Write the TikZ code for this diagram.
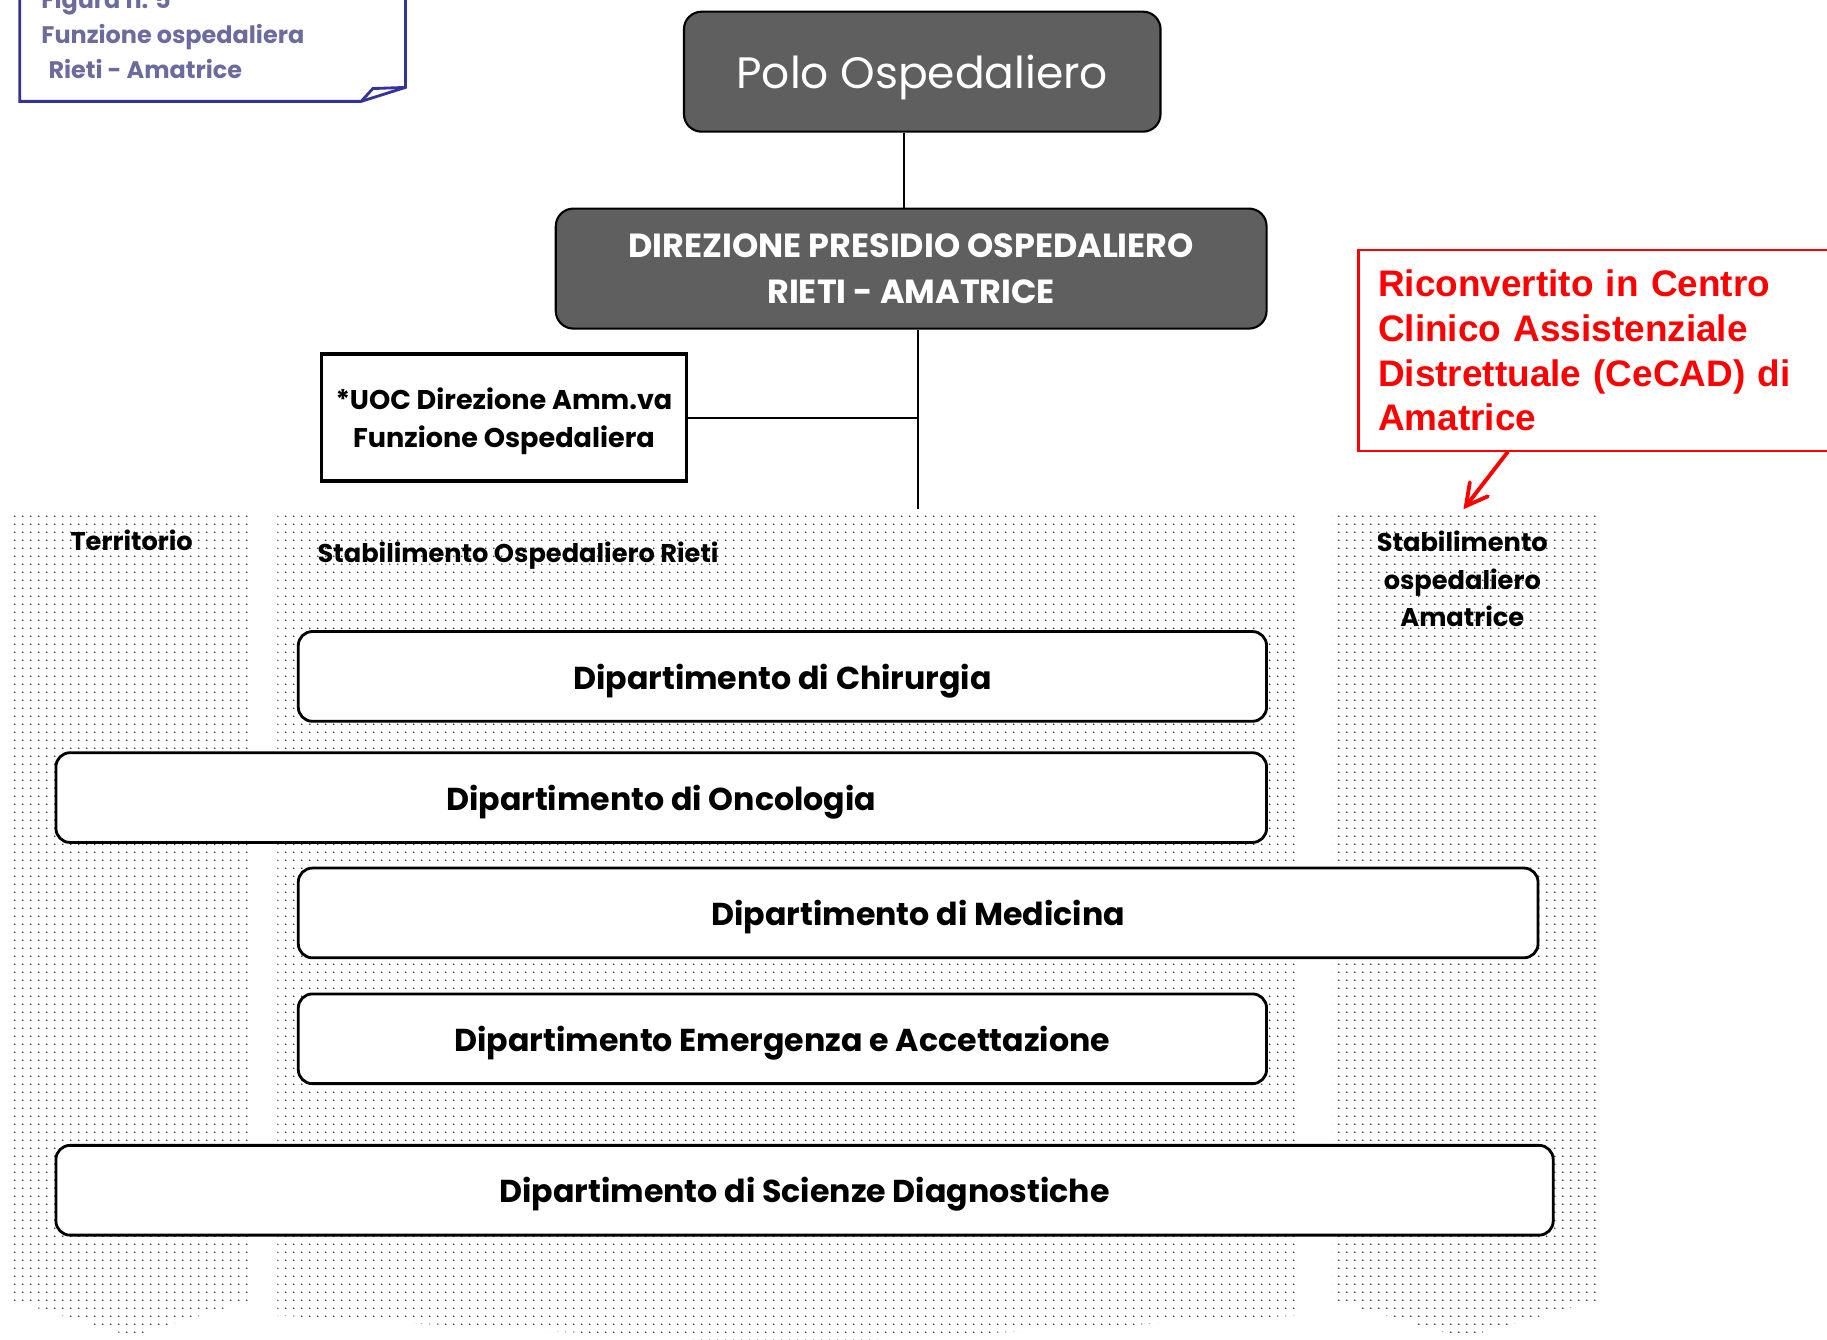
\documentclass[tikz,border=0pt]{standalone}
\usepackage{fontspec}
\setmainfont{Poppins}
\newfontfamily\arialfont{Liberation Sans}
\usetikzlibrary{positioning,arrows.meta,patterns.meta}

\definecolor{boxgray}{HTML}{5F5F5F}
\definecolor{figblue}{HTML}{333399}
\definecolor{figtxt}{HTML}{6B6B9E}
\definecolor{dotgray}{HTML}{333333}

\def\unitpx{0.01165cm}

% regular grid of small dots for the columns
\tikzdeclarepattern{
  name=griddots,
  type=uncolored,
  bounding box={(-1.1pt,-1.1pt) and (1.1pt,1.1pt)},
  tile size={(2.2pt,2.2pt)},
  code={\fill (0pt,0pt) circle (0.28pt);}
}

\tikzset{
  dotcol/.style={pattern=griddots, pattern color=dotgray},
  coltitle/.style={font=\fontsize{7.3}{10.7}\selectfont\bfseries, inner sep=0pt},
  topbox/.style={draw=black, line width=0.6pt, fill=boxgray, rounded corners=5pt,
    text=white, align=center, inner sep=0pt},
  uocbox/.style={draw=black, line width=1pt, fill=white, align=center, inner sep=0pt,
    text depth=0pt, font=\fontsize{7.7}{10.9}\selectfont\bfseries},
  dept/.style={draw=black, line width=0.8pt, fill=white, rounded corners=4pt,
    minimum height=77*\unitpx, inner sep=0pt, text depth=0pt,
    font=\fontsize{9}{11}\selectfont\bfseries},
  conn/.style={draw=black, line width=0.7pt},
  notebox/.style={draw=red, line width=0.6pt, text=red, align=left, inner xsep=5.6pt,
    font=\arialfont\fontsize{10.5}{12.7}\selectfont\bfseries},
  redarrow/.style={draw=red, line width=1.1pt, line cap=round,
    -{Straight Barb[length=6pt,width=6.5pt,line cap=round]}},
  figline/.style={draw=figblue, line width=0.8pt},
  figtext/.style={text=figtxt, inner sep=0pt, font=\fontsize{6.8}{9.9}\selectfont\bfseries}
}

\begin{document}
\begin{tikzpicture}[x=0.01165cm, y=-0.01165cm]
    \clip (0,0) rectangle (1568,1150);
    \fill[white] (0,0) rectangle (1568,1150);

    % dotted columns, pointing down
    \fill[dotcol] (10,437) -- (215,437) -- (215,1116) -- (113,1147) -- (10,1116) -- cycle;
    \fill[dotcol] (238,437) -- (1112,437) -- (1112,1129) -- (675,1154) -- (238,1129) -- cycle;
    \fill[dotcol] (1143,437) -- (1371,437) -- (1371,1116) -- (1256,1148) -- (1143,1116) -- cycle;

    % column titles
    \node[coltitle] (terr) at (113,464) {Territorio};
    \node[coltitle, anchor=west] (rieti) at (272,477) {Stabilimento Ospedaliero Rieti};
    \node[coltitle, align=center] (amat) at (1255,497) {Stabilimento\\ospedaliero\\Amatrice};

    % top of the chart
    \node[topbox, minimum width=409*\unitpx, minimum height=103*\unitpx, text depth=0pt,
      font=\fontsize{12.5}{15}\selectfont] (polo) at (791.5,61.5) {Polo Ospedaliero};
    \node[topbox, minimum width=610*\unitpx, minimum height=103*\unitpx,
      font=\fontsize{9.5}{12.9}\selectfont\bfseries] (dir) at (782,230.5)
      {DIREZIONE PRESIDIO OSPEDALIERO\\RIETI - AMATRICE};
    \node[uocbox, minimum width=313*\unitpx, minimum height=109*\unitpx] (uoc) at (432.5,358.5)
      {*UOC Direzione Amm.va\\Funzione Ospedaliera};

    \coordinate (k1) at (776,0);
    \coordinate (trunk) at (788,437);
    \draw[conn] (polo.south -| k1) -- (dir.north -| k1);
    \draw[conn] (dir.south -| trunk) -- (trunk);
    \draw[conn] (uoc.east) -- (uoc.east -| trunk);

    % departments
    \node[dept, minimum width=831*\unitpx] (chir) at (671.5,580.5) {Dipartimento di Chirurgia};
    \node[dept, minimum width=1039*\unitpx] (onco) at (567.5,684.5) {Dipartimento di Oncologia};
    \node[dept, minimum width=1064*\unitpx] (med) at (788,783.5) {Dipartimento di Medicina};
    \node[dept, minimum width=831*\unitpx] (emerg) at (671.5,891.5) {Dipartimento Emergenza e Accettazione};
    \node[dept, minimum width=1285*\unitpx] (diagn) at (690.5,1021.5) {Dipartimento di Scienze Diagnostiche};

    % note on Amatrice
    \node[notebox, anchor=north west, minimum width=402*\unitpx, minimum height=172*\unitpx,
      text width=369*\unitpx] (cecad) at (1165,214)
      {Riconvertito in Centro\\Clinico Assistenziale\\Distrettuale (CeCAD) di\\Amatrice};
    \coordinate (k2) at (1294,0);
    \coordinate (amatop) at (1256,437);
    \draw[redarrow] (cecad.south -| k2) -- (amatop);

    % figure label with folded corner
    \draw[figline, fill=white] (17,-40) -- (17,87) -- (310,87) -- (348,75) -- (348,-40);
    \draw[figline] (310,87) -- (320,76) -- (348,75);
    \node[figtext, anchor=west, align=left] (fig) at (35,29)
      {Figura n. 5\\Funzione ospedaliera\\\hspace*{2pt}Rieti - Amatrice};
\end{tikzpicture}
\end{document}
